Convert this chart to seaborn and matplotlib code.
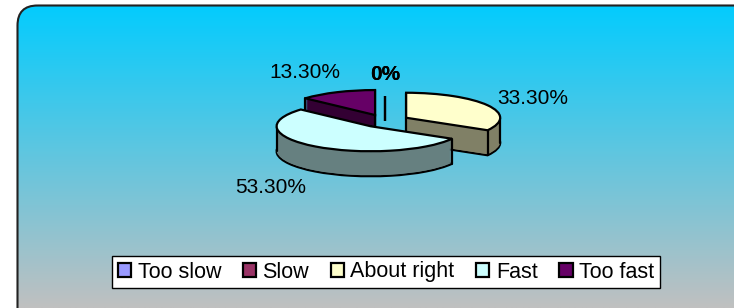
import matplotlib
matplotlib.use("Agg")
import matplotlib.pyplot as plt
import numpy as np
import seaborn as sns
from matplotlib.patches import FancyBboxPatch
from matplotlib.colors import to_rgb

# dados do gráfico
categories = ["Too slow", "Slow", "About right", "Fast", "Too fast"]
shares = [0.0, 0.0, 33.3, 53.3, 13.3]
labels = ["0%" if v == 0 else f"{v:.2f}%" for v in shares]
top_colors = ["#9999FF", "#993366", "#FFFFCC", "#CCFFFF", "#660066"]

# layout (pixels)
W, H = 734, 308
CX, CY = 385, 121      # centro da pizza
RX, RY = 94, 25        # raios da elipse
DEPTH = 25             # espessura 3D
explode = [0, 0, 0.26, 0.26, 0.26]
draw_rank = [3, 4, 1, 2, 0]   # ordem de desenho (fundo -> frente)
label_dist = [1.84, 1.84, 1.55, 1.8, 1.85]

sns.set_theme(style="white")
plt.rcParams["font.family"] = ["Liberation Sans", "DejaVu Sans"]
plt.rcParams["text.color"] = "black"

side_colors = [tuple(c * 0.5 for c in to_rgb(col)) for col in top_colors]

fig = plt.figure(figsize=(W / 100, H / 100), dpi=100)

# fundo com degradê e borda arredondada
bg = fig.add_axes([0, 0, 1, 1])
bg.set_xlim(0, W)
bg.set_ylim(H, 0)
bg.axis("off")
top_c = np.array(to_rgb("#00CCFF"))
bot_c = np.array(to_rgb("#C0C0C0"))
t = np.linspace(0, 1, 256)[:, None, None]
grad = top_c + (bot_c - top_c) * t
grad = np.repeat(grad, 2, axis=1)
img = bg.imshow(grad, extent=(0, W, H, 0), aspect="auto", interpolation="bilinear")
box = FancyBboxPatch((17.5, 5.5), W + 20, H + 20,
                     boxstyle="round,pad=0,rounding_size=20",
                     facecolor="none", edgecolor="#222222", linewidth=1.5)
bg.add_patch(box)
img.set_clip_path(box)

# pizza 3D: camadas empilhadas
ax = fig.add_axes([0, 0, 1, 1])
ax.set_facecolor("none")
dz = DEPTH / RY
nlayers = DEPTH
top_wedges = None
for k in range(nlayers + 1):
    d = dz * (nlayers - k) / nlayers
    wedges, _ = ax.pie(shares, colors=top_colors, startangle=90, counterclock=False,
                       explode=explode, center=(0, -d), wedgeprops=dict(linewidth=0))
    for i, w in enumerate(wedges):
        w.set_zorder(10 + draw_rank[i] * 100 + k)
        if k == nlayers:
            w.set_facecolor(top_colors[i])
            w.set_edgecolor("black")
            w.set_linewidth(1.6)
        else:
            if shares[i] == 0:
                w.set_visible(False)
                continue
            w.set_facecolor(side_colors[i])
            if k == 0:
                w.set_edgecolor("black")
                w.set_linewidth(1.6)
    if k == nlayers:
        top_wedges = wedges

# arestas verticais
for i, w in enumerate(top_wedges):
    if shares[i] == 0:
        continue
    cx, cy = w.center
    angs = [w.theta1, w.theta2]
    for c in (0, 180):
        for m in (-360, 0, 360):
            if w.theta1 <= c + m <= w.theta2:
                angs.append(c + m)
    pts = [(cx, cy)] + [(cx + w.r * np.cos(np.radians(a)), cy + w.r * np.sin(np.radians(a)))
                        for a in angs]
    for x, y in pts:
        ax.plot([x, x], [y, y - dz], color="black", lw=1.6,
                zorder=10 + draw_rank[i] * 100 + nlayers - 0.5)

# rótulos
for i, w in enumerate(top_wedges):
    tm = np.radians((w.theta1 + w.theta2) / 2)
    cx, cy = w.center
    x = cx + label_dist[i] * np.cos(tm)
    y = cy + label_dist[i] * np.sin(tm)
    if np.sin(tm) < 0:
        y -= dz
    ax.text(x, y, labels[i], ha="center", va="center", fontsize=15, color="black",
            fontweight="bold" if shares[i] == 0 else "normal", zorder=1000)

ax.set_aspect("auto")
ax.set_xlim(-CX / RX, (W - CX) / RX)
ax.set_ylim((CY - H) / RY, CY / RY)
ax.axis("off")

leg = fig.legend(top_wedges, categories, loc="center", bbox_to_anchor=(386 / W, 1 - 272 / H),
                 ncol=5, fontsize=15.5, frameon=True, fancybox=False, edgecolor="black",
                 framealpha=1, handlelength=0.62, handleheight=0.62, handletextpad=0.3,
                 columnspacing=1.0, borderpad=0.25, borderaxespad=0)
leg.get_frame().set_linewidth(1.0)
for txt in leg.get_texts():
    txt.set_color("black")

fig.savefig("out.png", dpi=100)
